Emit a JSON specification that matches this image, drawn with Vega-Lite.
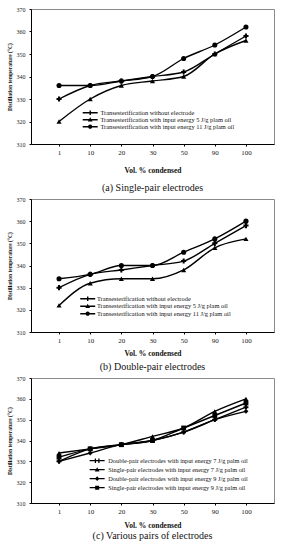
{
  "$schema": "https://vega.github.io/schema/vega-lite/v6.json",
  "padding": {"left": 6, "top": 5, "right": 6, "bottom": 0},
  "background": "white",
  "spacing": 2,
  "config": {
    "font": "Liberation Serif",
    "style": {"guide-label": {"fontSize": 6}},
    "view": {"stroke": "#8a8a8a", "strokeWidth": 1},
    "axis": {"grid": false, "labelFont": "Liberation Serif", "titleFont": "Liberation Serif", "domainColor": "black", "tickColor": "black", "labelColor": "#222", "titleColor": "#111", "labelOverlap": false},
    "axisX": {"labelAngle": 0, "labelFontSize": 7, "tickSize": 2, "labelPadding": 2, "titleFontSize": 7.5, "titleFontWeight": "bold", "titlePadding": 8},
    "axisY": {"labelFontSize": 6, "tickSize": 2, "labelPadding": 4, "titleFontSize": 5.5, "titleFontWeight": "bold", "titlePadding": 4},
    "legend": {"orient": "none", "title": null, "labelFont": "Liberation Serif", "labelLimit": 400, "labelColor": "#111", "rowPadding": 0, "padding": 0, "symbolSize": 25, "symbolStrokeWidth": 0},
    "title": {"font": "Liberation Serif", "fontSize": 10, "fontWeight": "normal", "color": "#111", "orient": "bottom", "anchor": "middle"}
  },
  "datasets": {
    "a": [
      {"series": "Transesterification without electrode", "vol": 1, "temp": 330},
      {"series": "Transesterification without electrode", "vol": 10, "temp": 336},
      {"series": "Transesterification without electrode", "vol": 20, "temp": 338},
      {"series": "Transesterification without electrode", "vol": 30, "temp": 340},
      {"series": "Transesterification without electrode", "vol": 50, "temp": 342},
      {"series": "Transesterification without electrode", "vol": 90, "temp": 350},
      {"series": "Transesterification without electrode", "vol": 100, "temp": 358},
      {"series": "Transesterification with input energy 5 J/g plam oil", "vol": 1, "temp": 320},
      {"series": "Transesterification with input energy 5 J/g plam oil", "vol": 10, "temp": 330},
      {"series": "Transesterification with input energy 5 J/g plam oil", "vol": 20, "temp": 336},
      {"series": "Transesterification with input energy 5 J/g plam oil", "vol": 30, "temp": 338},
      {"series": "Transesterification with input energy 5 J/g plam oil", "vol": 50, "temp": 340},
      {"series": "Transesterification with input energy 5 J/g plam oil", "vol": 90, "temp": 350},
      {"series": "Transesterification with input energy 5 J/g plam oil", "vol": 100, "temp": 356},
      {"series": "Transesterification with input energy 11 J/g plam oil", "vol": 1, "temp": 336},
      {"series": "Transesterification with input energy 11 J/g plam oil", "vol": 10, "temp": 336},
      {"series": "Transesterification with input energy 11 J/g plam oil", "vol": 20, "temp": 338},
      {"series": "Transesterification with input energy 11 J/g plam oil", "vol": 30, "temp": 340},
      {"series": "Transesterification with input energy 11 J/g plam oil", "vol": 50, "temp": 348},
      {"series": "Transesterification with input energy 11 J/g plam oil", "vol": 90, "temp": 354},
      {"series": "Transesterification with input energy 11 J/g plam oil", "vol": 100, "temp": 362}
    ],
    "b": [
      {"series": "Transesterification without electrode", "vol": 1, "temp": 330},
      {"series": "Transesterification without electrode", "vol": 10, "temp": 336},
      {"series": "Transesterification without electrode", "vol": 20, "temp": 338},
      {"series": "Transesterification without electrode", "vol": 30, "temp": 340},
      {"series": "Transesterification without electrode", "vol": 50, "temp": 342},
      {"series": "Transesterification without electrode", "vol": 90, "temp": 350},
      {"series": "Transesterification without electrode", "vol": 100, "temp": 358},
      {"series": "Transesterification with input energy 5 J/g plam oil", "vol": 1, "temp": 322},
      {"series": "Transesterification with input energy 5 J/g plam oil", "vol": 10, "temp": 332},
      {"series": "Transesterification with input energy 5 J/g plam oil", "vol": 20, "temp": 334},
      {"series": "Transesterification with input energy 5 J/g plam oil", "vol": 30, "temp": 334},
      {"series": "Transesterification with input energy 5 J/g plam oil", "vol": 50, "temp": 338},
      {"series": "Transesterification with input energy 5 J/g plam oil", "vol": 90, "temp": 348},
      {"series": "Transesterification with input energy 5 J/g plam oil", "vol": 100, "temp": 352},
      {"series": "Transesterification with input energy 11 J/g plam oil", "vol": 1, "temp": 334},
      {"series": "Transesterification with input energy 11 J/g plam oil", "vol": 10, "temp": 336},
      {"series": "Transesterification with input energy 11 J/g plam oil", "vol": 20, "temp": 340},
      {"series": "Transesterification with input energy 11 J/g plam oil", "vol": 30, "temp": 340},
      {"series": "Transesterification with input energy 11 J/g plam oil", "vol": 50, "temp": 346},
      {"series": "Transesterification with input energy 11 J/g plam oil", "vol": 90, "temp": 352},
      {"series": "Transesterification with input energy 11 J/g plam oil", "vol": 100, "temp": 360}
    ],
    "c": [
      {"series": "Double-pair electrodes with input energy  7 J/g palm oil", "vol": 1, "temp": 330},
      {"series": "Double-pair electrodes with input energy  7 J/g palm oil", "vol": 10, "temp": 336},
      {"series": "Double-pair electrodes with input energy  7 J/g palm oil", "vol": 20, "temp": 338},
      {"series": "Double-pair electrodes with input energy  7 J/g palm oil", "vol": 30, "temp": 340},
      {"series": "Double-pair electrodes with input energy  7 J/g palm oil", "vol": 50, "temp": 344},
      {"series": "Double-pair electrodes with input energy  7 J/g palm oil", "vol": 90, "temp": 350},
      {"series": "Double-pair electrodes with input energy  7 J/g palm oil", "vol": 100, "temp": 356},
      {"series": "Single-pair electrodes with input energy  7 J/g palm oil", "vol": 1, "temp": 334},
      {"series": "Single-pair electrodes with input energy  7 J/g palm oil", "vol": 10, "temp": 336},
      {"series": "Single-pair electrodes with input energy  7 J/g palm oil", "vol": 20, "temp": 338},
      {"series": "Single-pair electrodes with input energy  7 J/g palm oil", "vol": 30, "temp": 342},
      {"series": "Single-pair electrodes with input energy  7 J/g palm oil", "vol": 50, "temp": 346},
      {"series": "Single-pair electrodes with input energy  7 J/g palm oil", "vol": 90, "temp": 354},
      {"series": "Single-pair electrodes with input energy  7 J/g palm oil", "vol": 100, "temp": 360},
      {"series": "Double-pair electrodes with input energy  9 J/g palm oil", "vol": 1, "temp": 330},
      {"series": "Double-pair electrodes with input energy  9 J/g palm oil", "vol": 10, "temp": 334},
      {"series": "Double-pair electrodes with input energy  9 J/g palm oil", "vol": 20, "temp": 338},
      {"series": "Double-pair electrodes with input energy  9 J/g palm oil", "vol": 30, "temp": 340},
      {"series": "Double-pair electrodes with input energy  9 J/g palm oil", "vol": 50, "temp": 344},
      {"series": "Double-pair electrodes with input energy  9 J/g palm oil", "vol": 90, "temp": 350},
      {"series": "Double-pair electrodes with input energy  9 J/g palm oil", "vol": 100, "temp": 354},
      {"series": "Single-pair electrodes with input energy  9 J/g palm oil", "vol": 1, "temp": 332},
      {"series": "Single-pair electrodes with input energy  9 J/g palm oil", "vol": 10, "temp": 336},
      {"series": "Single-pair electrodes with input energy  9 J/g palm oil", "vol": 20, "temp": 338},
      {"series": "Single-pair electrodes with input energy  9 J/g palm oil", "vol": 30, "temp": 340},
      {"series": "Single-pair electrodes with input energy  9 J/g palm oil", "vol": 50, "temp": 346},
      {"series": "Single-pair electrodes with input energy  9 J/g palm oil", "vol": 90, "temp": 352},
      {"series": "Single-pair electrodes with input energy  9 J/g palm oil", "vol": 100, "temp": 358}
    ]
  },
  "vconcat": [
    {
      "data": {"name": "a"},
      "width": 243, "height": 135,
      "title": {"text": "(a) Single-pair electrodes", "offset": 9},
      "encoding": {
        "x": {"field": "vol", "type": "ordinal", "sort": "ascending", "scale": {"type": "point", "padding": 0.9}, "axis": {"title": "Vol. % condensed", "titlePadding": 11}},
        "y": {"field": "temp", "type": "quantitative", "scale": {"domain": [310, 370]}, "axis": {"title": "Distillation temperature (°C)", "values": [310, 320, 330, 340, 350, 360, 370]}}
      },
      "layer": [
        {"mark": {"type": "line", "interpolate": "monotone", "color": "black", "strokeWidth": 1.4}, "encoding": {"detail": {"field": "series"}}},
        {"mark": {"type": "point", "filled": true, "color": "black", "size": 26, "opacity": 1},
         "encoding": {"shape": {"field": "series", "scale": {"domain": ["Transesterification without electrode", "Transesterification with input energy 5 J/g plam oil", "Transesterification with input energy 11 J/g plam oil"], "range": ["cross", "triangle-up", "circle"]}, "legend": null}}},
        {"transform": [{"filter": "datum.temp < 0"}],
         "mark": {"type": "point", "filled": true, "color": "black"},
         "encoding": {"shape": {"field": "series", "scale": {"domain": ["Transesterification without electrode", "Transesterification with input energy 5 J/g plam oil", "Transesterification with input energy 11 J/g plam oil"], "range": ["M-3,-0.28L3,-0.28L3,0.28L-3,0.28ZM-0.28,-0.9L0.28,-0.9L0.28,0.9L-0.28,0.9Z", "M-3,-0.28L3,-0.28L3,0.28L-3,0.28ZM0,-1L0.95,0.7L-0.95,0.7Z", "M-3,-0.28L3,-0.28L3,0.28L-3,0.28ZM0.85,0A0.85,0.85 0 1,1 -0.85,0A0.85,0.85 0 1,1 0.85,0Z"]},
           "legend": {"legendX": 56, "legendY": 100.5, "labelFontSize": 6.4, "labelOffset": 7, "symbolSize": 25, "symbolStrokeWidth": 0, "symbolFillColor": "black", "symbolOpacity": 1}}}}
      ],
      "resolve": {"scale": {"shape": "independent"}}
    },
    {
      "data": {"name": "b"},
      "width": 243, "height": 133,
      "title": {"text": "(b) Double-pair electrodes", "offset": 5},
      "encoding": {
        "x": {"field": "vol", "type": "ordinal", "sort": "ascending", "scale": {"type": "point", "padding": 0.9}, "axis": {"title": "Vol. % condensed", "titlePadding": 6}},
        "y": {"field": "temp", "type": "quantitative", "scale": {"domain": [310, 370]}, "axis": {"title": "Distillation temperature (°C)", "values": [310, 320, 330, 340, 350, 360, 370]}}
      },
      "layer": [
        {"mark": {"type": "line", "interpolate": "monotone", "color": "black", "strokeWidth": 1.4}, "encoding": {"detail": {"field": "series"}}},
        {"mark": {"type": "point", "filled": true, "color": "black", "size": 26, "opacity": 1},
         "encoding": {"shape": {"field": "series", "scale": {"domain": ["Transesterification without electrode", "Transesterification with input energy 5 J/g plam oil", "Transesterification with input energy 11 J/g plam oil"], "range": ["cross", "triangle-up", "circle"]}, "legend": null}}},
        {"transform": [{"filter": "datum.temp < 0"}],
         "mark": {"type": "point", "filled": true, "color": "black"},
         "encoding": {"shape": {"field": "series", "scale": {"domain": ["Transesterification without electrode", "Transesterification with input energy 5 J/g plam oil", "Transesterification with input energy 11 J/g plam oil"], "range": ["M-3,-0.28L3,-0.28L3,0.28L-3,0.28ZM-0.28,-0.9L0.28,-0.9L0.28,0.9L-0.28,0.9Z", "M-3,-0.28L3,-0.28L3,0.28L-3,0.28ZM0,-1L0.95,0.7L-0.95,0.7Z", "M-3,-0.28L3,-0.28L3,0.28L-3,0.28ZM0.85,0A0.85,0.85 0 1,1 -0.85,0A0.85,0.85 0 1,1 0.85,0Z"]},
           "legend": {"legendX": 53.5, "legendY": 96.5, "labelFontSize": 6.4, "labelOffset": 6, "rowPadding": 0.5, "symbolSize": 25, "symbolStrokeWidth": 0, "symbolFillColor": "black", "symbolOpacity": 1}}}}
      ],
      "resolve": {"scale": {"shape": "independent"}}
    },
    {
      "data": {"name": "c"},
      "width": 243, "height": 125,
      "title": {"text": "(c) Various pairs of electrodes", "offset": 2},
      "encoding": {
        "x": {"field": "vol", "type": "ordinal", "sort": "ascending", "scale": {"type": "point", "padding": 0.9}, "axis": {"title": "Vol. % condensed", "titlePadding": 7}},
        "y": {"field": "temp", "type": "quantitative", "scale": {"domain": [310, 370]}, "axis": {"title": "Distillation temperature (°C)", "values": [310, 320, 330, 340, 350, 360, 370]}}
      },
      "layer": [
        {"mark": {"type": "line", "interpolate": "monotone", "color": "black", "strokeWidth": 1.4}, "encoding": {"detail": {"field": "series"}}},
        {"mark": {"type": "point", "filled": true, "color": "black", "size": 24, "opacity": 1},
         "encoding": {"shape": {"field": "series", "scale": {"domain": ["Double-pair electrodes with input energy  7 J/g palm oil", "Single-pair electrodes with input energy  7 J/g palm oil", "Double-pair electrodes with input energy  9 J/g palm oil", "Single-pair electrodes with input energy  9 J/g palm oil"], "range": ["cross", "triangle-up", "diamond", "square"]}, "legend": null}}},
        {"transform": [{"filter": "datum.temp < 0"}],
         "mark": {"type": "point", "filled": true, "color": "black"},
         "encoding": {"shape": {"field": "series", "scale": {"domain": ["Double-pair electrodes with input energy  7 J/g palm oil", "Single-pair electrodes with input energy  7 J/g palm oil", "Double-pair electrodes with input energy  9 J/g palm oil", "Single-pair electrodes with input energy  9 J/g palm oil"], "range": ["M-3,-0.28L3,-0.28L3,0.28L-3,0.28ZM-0.95,-0.9L-0.45,-0.9L-0.45,0.9L-0.95,0.9ZM0.45,-0.9L0.95,-0.9L0.95,0.9L0.45,0.9Z", "M-3,-0.28L3,-0.28L3,0.28L-3,0.28ZM0,-1L0.95,0.7L-0.95,0.7Z", "M-3,-0.28L3,-0.28L3,0.28L-3,0.28ZM0,-0.95L0.9,0L0,0.95L-0.9,0Z", "M-3,-0.28L3,-0.28L3,0.28L-3,0.28ZM-0.8,-0.8L0.8,-0.8L0.8,0.8L-0.8,0.8Z"]},
           "legend": {"legendX": 63, "legendY": 79.5, "labelFontSize": 6.3, "labelOffset": 8, "rowPadding": 2, "symbolSize": 25, "symbolStrokeWidth": 0, "symbolFillColor": "black", "symbolOpacity": 1}}}}
      ],
      "resolve": {"scale": {"shape": "independent"}}
    }
  ]
}
